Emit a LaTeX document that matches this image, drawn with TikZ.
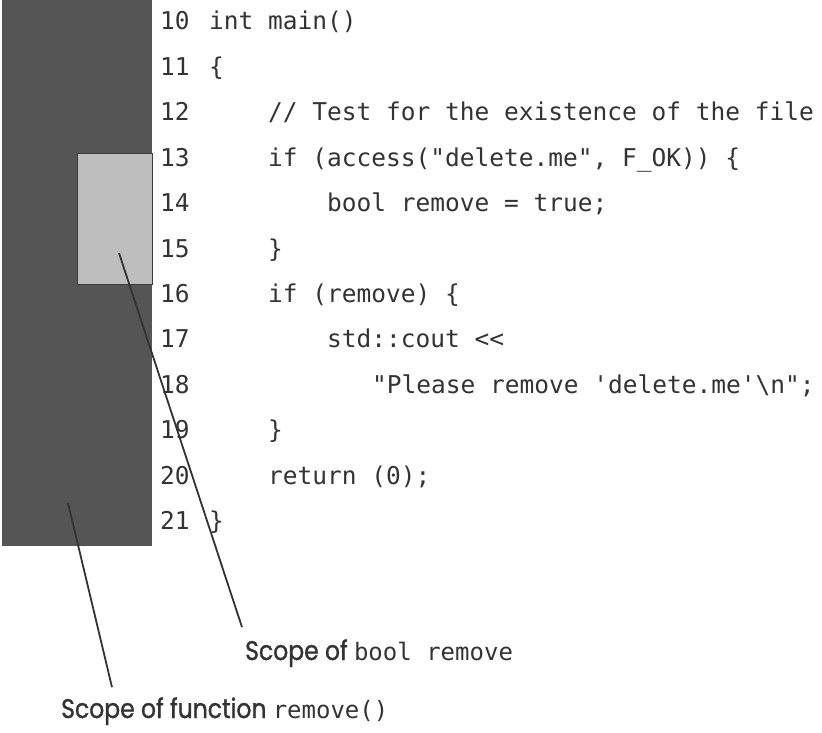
\documentclass[tikz,border=0pt]{standalone}
\usepackage{fontspec}
\setmonofont{DejaVu Sans Mono}
\newfontfamily\labelfont{Poppins}[FakeStretch=0.87,FakeBold=1.2]
\usetikzlibrary{positioning}
\definecolor{fundark}{HTML}{555555}
\definecolor{blocklight}{HTML}{BEBEBE}
\definecolor{inkline}{HTML}{333333}
\newcommand{\codesize}{\fontsize{24.5}{28}\selectfont\ttfamily}
\newcommand{\labelcode}{\fontsize{24}{28}\selectfont\ttfamily}
\tikzset{
  codeline/.style={anchor=base west,inner sep=0pt,font=\codesize,text=inkline},
  lineno/.style={anchor=base west,inner sep=0pt,font=\codesize,text=inkline},
  scopelabel/.style={anchor=base west,inner sep=0pt,text=inkline,
    font=\fontsize{27}{32}\selectfont\labelfont},
  pointer/.style={draw=inkline,line width=1.8pt}
}
\begin{document}
\begin{tikzpicture}[x=1pt,y=-1pt]
  \useasboundingbox (0,0) rectangle (822,733);

  \node[fill=fundark,inner sep=0pt,minimum width=150pt,minimum height=546pt,anchor=north west] (funscope) at (2,0) {};
  \node[fill=blocklight,draw=fundark!70!black,line width=0.8pt,inner sep=0pt,minimum width=75pt,minimum height=131pt,anchor=north west] (blockscope) at (77,153) {};

  \node[lineno] (ln10) at (160, 30) {10};
  \node[lineno] (ln11) at (160, 75.4) {11};
  \node[lineno] (ln12) at (160,120.8) {12};
  \node[lineno] (ln13) at (160,166.2) {13};
  \node[lineno] (ln14) at (160,211.6) {14};
  \node[lineno] (ln15) at (160,257) {15};
  \node[lineno] (ln16) at (160,302.4) {16};
  \node[lineno] (ln17) at (160,347.8) {17};
  \node[lineno] (ln18) at (160,393.2) {18};
  \node[lineno] (ln19) at (160,438.6) {19};
  \node[lineno] (ln20) at (160,484) {20};
  \node[lineno] (ln21) at (160,529.4) {21};

  \node[codeline] (c10) at (209, 30) {int main()};
  \node[codeline] (c11) at (209, 75.4) {\{};
  \node[codeline] (c12) at (268,120.8) {// Test for the existence of the file};
  \node[codeline] (c13) at (268,166.2) {if (access("delete.me", F\_OK)) \{};
  \node[codeline] (c14) at (327,211.6) {bool remove = true;};
  \node[codeline] (c15) at (268,257) {\}};
  \node[codeline] (c16) at (268,302.4) {if (remove) \{};
  \node[codeline] (c17) at (327,347.8) {std::cout <<};
  \node[codeline] (c18) at (372,393.2) {"Please remove 'delete.me'\textbackslash n";};
  \node[codeline] (c19) at (268,438.6) {\}};
  \node[codeline] (c20) at (268,484) {return (0);};
  \node[codeline] (c21) at (209,529.4) {\}};

  \node[scopelabel] (boollbl) at (245,660) {Scope of {\labelcode bool remove}};
  \node[scopelabel] (funlbl) at (61,718) {Scope of function {\labelcode remove()}};

  \coordinate (blockpt) at (119,253);
  \coordinate (funpt) at (68,503);
  \draw[pointer] (blockpt) -- ([shift={(-3,-12)}]boollbl.north west);
  \draw[pointer] (funpt) -- ([shift={(51,-10)}]funlbl.north west);
\end{tikzpicture}
\end{document}
